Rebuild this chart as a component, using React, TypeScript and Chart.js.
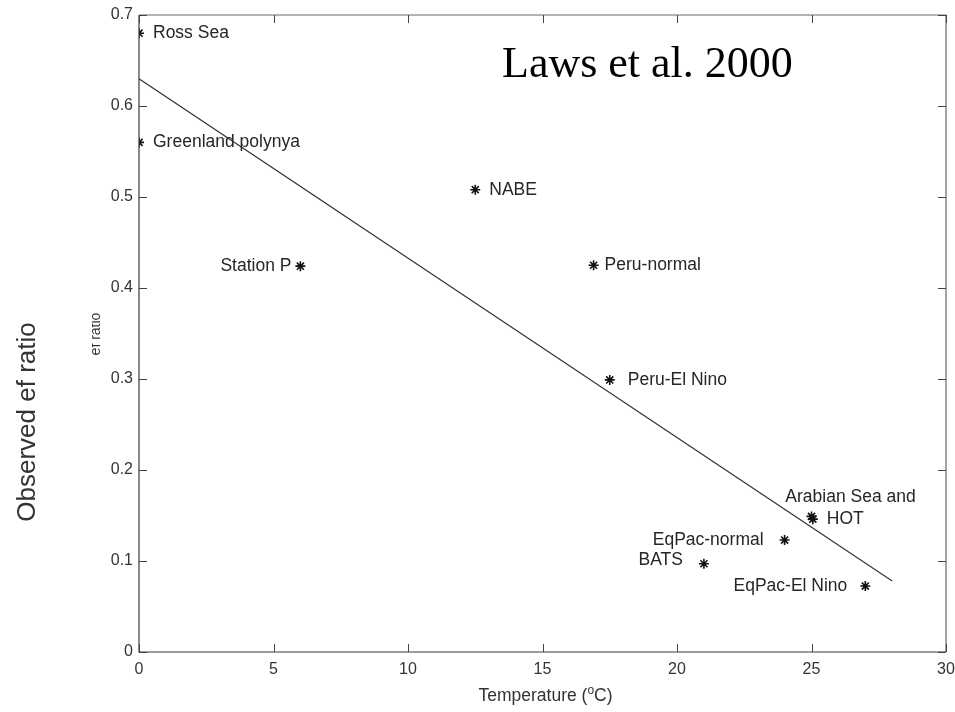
import React, { useEffect, useRef } from "react";
import { Chart, registerables } from "chart.js";

Chart.register(...registerables);

// ---- data ----
const siteNames = [
  "Ross Sea",
  "Greenland polynya",
  "Station P",
  "NABE",
  "Peru-normal",
  "Peru-El Nino",
  "Arabian Sea and",
  "HOT",
  "EqPac-normal",
  "BATS",
  "EqPac-El Nino",
];
const temperatures = [0, 0, 6, 12.5, 16.9, 17.5, 25, 25.05, 24, 21, 27];
const efRatios = [0.68, 0.56, 0.424, 0.508, 0.425, 0.299, 0.149, 0.146, 0.123, 0.097, 0.0725];

const fitTemps = [0, 28];
const fitRatios = [0.63, 0.078];

const xTickValues = [0, 5, 10, 15, 20, 25, 30];
const xTickLabels = ["0", "5", "10", "15", "20", "25", "30"];
const yTickValues = [0, 0.1, 0.2, 0.3, 0.4, 0.5, 0.6, 0.7];
const yTickLabels = ["0", "0.1", "0.2", "0.3", "0.4", "0.5", "0.6", "0.7"];

// label placement (style, not data)
const labelAlign = ["left", "left", "right", "left", "left", "left", "center", "left", "right", "right", "right"];
const labelDx = [14, 14, -9, 14, 11, 18, 39, 14, -21, -21, -18];
const labelDy = [0, 0, 0, 0, 0, 0, -19, 0, 0, -4, 0];

const SANS = "'Liberation Sans', Arial, Helvetica, sans-serif";

const decorPlugin = {
  id: "decor",
  afterDraw(chart: any) {
    const ctx = chart.ctx;
    const { left, right, top, bottom } = chart.chartArea;
    const xs = chart.scales.x;
    const ys = chart.scales.y;
    ctx.save();
    // box
    ctx.strokeStyle = "#3a3a3a";
    ctx.lineWidth = 1.2;
    ctx.beginPath();
    ctx.moveTo(left, top);
    ctx.lineTo(left, bottom);
    ctx.lineTo(right, bottom);
    ctx.stroke();
    ctx.strokeStyle = "#6a6a6a";
    ctx.beginPath();
    ctx.moveTo(left, top);
    ctx.lineTo(right, top);
    ctx.lineTo(right, bottom);
    ctx.stroke();
    // inward ticks
    const tl = 8;
    ctx.strokeStyle = "#444";
    ctx.lineWidth = 1;
    ctx.beginPath();
    xTickValues.forEach((v) => {
      const px = Math.round(xs.getPixelForValue(v)) + 0.5;
      ctx.moveTo(px, bottom);
      ctx.lineTo(px, bottom - tl);
      ctx.moveTo(px, top);
      ctx.lineTo(px, top + tl);
    });
    yTickValues.forEach((v) => {
      const py = Math.round(ys.getPixelForValue(v)) + 0.5;
      ctx.moveTo(left, py);
      ctx.lineTo(left + tl, py);
      ctx.moveTo(right, py);
      ctx.lineTo(right - tl, py);
    });
    ctx.stroke();

    // point labels
    const meta = chart.getDatasetMeta(0);
    ctx.fillStyle = "#262626";
    ctx.font = `17.5px ${SANS}`;
    ctx.textBaseline = "middle";
    meta.data.forEach((pt: any, i: number) => {
      ctx.textAlign = labelAlign[i];
      ctx.fillText(siteNames[i], pt.x + labelDx[i], pt.y + labelDy[i]);
    });

    // x-axis title with superscript
    const xc = 545.5;
    const base = 701;
    const p1 = "Temperature (";
    const sup = "o";
    const p2 = "C)";
    ctx.textBaseline = "alphabetic";
    ctx.textAlign = "left";
    ctx.font = `17.5px ${SANS}`;
    const w1 = ctx.measureText(p1).width;
    const w3 = ctx.measureText(p2).width;
    ctx.font = `12px ${SANS}`;
    const w2 = ctx.measureText(sup).width;
    const x0 = xc - (w1 + w2 + w3) / 2;
    ctx.fillStyle = "#333";
    ctx.font = `17.5px ${SANS}`;
    ctx.fillText(p1, x0, base);
    ctx.font = `12px ${SANS}`;
    ctx.fillText(sup, x0 + w1, base - 7);
    ctx.font = `17.5px ${SANS}`;
    ctx.fillText(p2, x0 + w1 + w2, base);

    // y-axis title
    ctx.save();
    ctx.translate(35, 422);
    ctx.rotate(-Math.PI / 2);
    ctx.textAlign = "center";
    ctx.textBaseline = "alphabetic";
    ctx.font = `26px ${SANS}`;
    ctx.fillStyle = "#333";
    ctx.fillText("Observed ef ratio", 0, 0);
    ctx.restore();

    // small clipped original axis label
    ctx.save();
    ctx.beginPath();
    ctx.rect(92, 290, 20, 90);
    ctx.clip();
    ctx.translate(100, 334);
    ctx.rotate(-Math.PI / 2);
    ctx.textAlign = "center";
    ctx.textBaseline = "alphabetic";
    ctx.font = `14px ${SANS}`;
    ctx.fillStyle = "#333";
    ctx.fillText("ef ratio", 0, 0);
    ctx.restore();

    // citation
    ctx.font = "44px 'Liberation Serif', 'DejaVu Serif', serif";
    ctx.fillStyle = "#000";
    ctx.textAlign = "left";
    ctx.textBaseline = "alphabetic";
    ctx.fillText("Laws et al. 2000", 502, 77);
    ctx.restore();
  },
};

export default function App() {
  const ref = useRef<HTMLCanvasElement | null>(null);
  useEffect(() => {
    if (!ref.current) return;
    const chart = new Chart(ref.current, {
      type: "scatter",
      data: {
        datasets: [
          {
            label: "sites",
            data: temperatures.map((t, i) => ({ x: t, y: efRatios[i] })),
            pointStyle: "star",
            pointRadius: 5,
            pointBorderWidth: 1.6,
            borderColor: "#111",
            backgroundColor: "#111",
            showLine: false,
          },
          {
            label: "fit",
            type: "line",
            data: fitTemps.map((t, i) => ({ x: t, y: fitRatios[i] })),
            borderColor: "#333",
            borderWidth: 1.2,
            pointRadius: 0,
            fill: false,
          } as any,
        ],
      },
      options: {
        animation: false,
        responsive: true,
        maintainAspectRatio: false,
        layout: { padding: { left: 0, top: 15, right: 9, bottom: 0 } },
        plugins: {
          legend: { display: false },
          tooltip: { enabled: false },
        },
        scales: {
          x: {
            type: "linear",
            min: 0,
            max: 30,
            grid: { display: false, drawTicks: false },
            border: { display: false },
            afterBuildTicks: (s: any) => {
              s.ticks = xTickValues.map((v) => ({ value: v }));
            },
            afterFit: (s: any) => {
              s.height = 60;
              s.paddingLeft = 0;
              s.paddingRight = 0;
            },
            ticks: {
              padding: 8,
              color: "#333",
              font: { family: SANS, size: 16 },
              maxRotation: 0,
              callback: (_v: any, i: number) => xTickLabels[i],
            },
          },
          y: {
            type: "linear",
            min: 0,
            max: 0.7,
            grid: { display: false, drawTicks: false },
            border: { display: false },
            afterBuildTicks: (s: any) => {
              s.ticks = yTickValues.map((v) => ({ value: v }));
            },
            afterFit: (s: any) => {
              s.width = 139;
              s.paddingTop = 0;
              s.paddingBottom = 0;
            },
            ticks: {
              padding: 6,
              color: "#333",
              font: { family: SANS, size: 16 },
              callback: (_v: any, i: number) => yTickLabels[i],
            },
          },
        },
      },
      plugins: [decorPlugin],
    });
    return () => chart.destroy();
  }, []);
  return (
    <div style={{ position: "absolute", left: 0, top: 0, width: 955, height: 712, background: "#fff" }}>
      <canvas ref={ref} />
    </div>
  );
}
